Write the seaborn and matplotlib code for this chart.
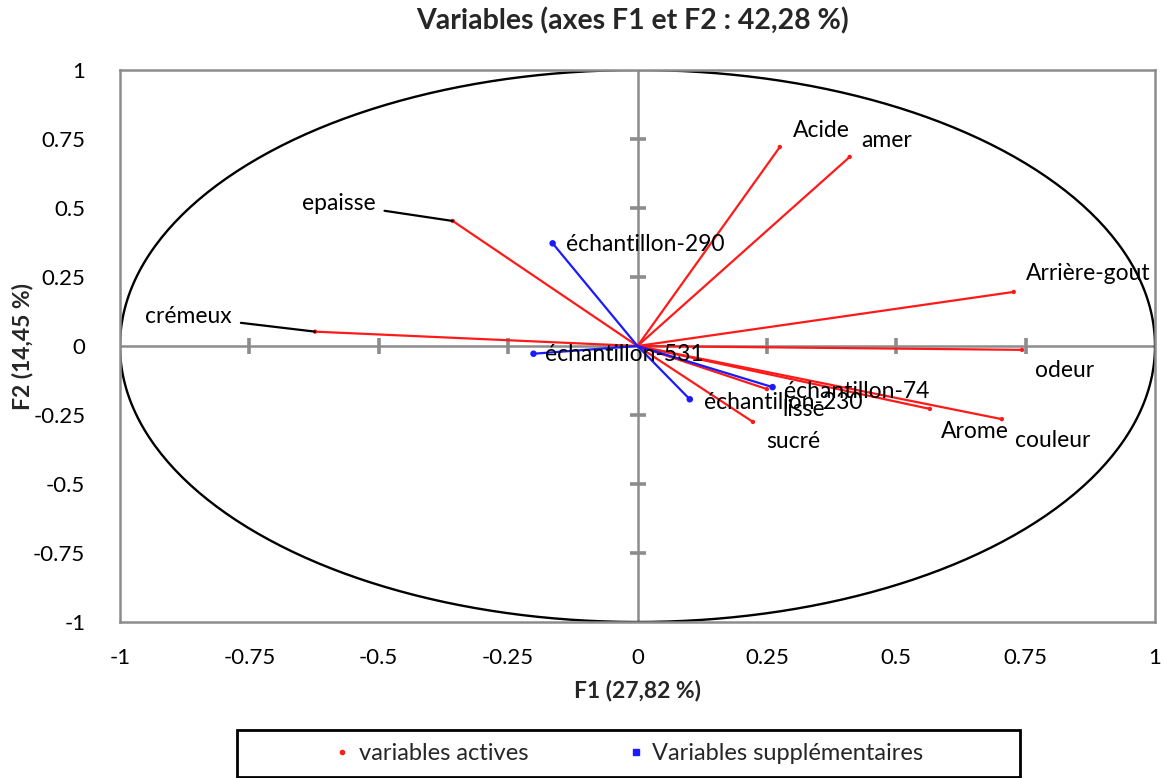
import numpy as np
import pandas as pd
import matplotlib
matplotlib.use("Agg")
import matplotlib.pyplot as plt
import seaborn as sns
from matplotlib.patches import Rectangle
from matplotlib.lines import Line2D

# Correlation of each variable with the first two factors
active_names = ["Acide", "amer", "Arrière-gout", "odeur", "Arome", "couleur",
                "lisse", "sucré", "epaisse", "crémeux"]
active_f1 = [0.275, 0.410, 0.727, 0.743, 0.565, 0.704, 0.250, 0.223, -0.357, -0.623]
active_f2 = [0.721, 0.685, 0.196, -0.014, -0.228, -0.265, -0.156, -0.275, 0.453, 0.052]

supp_names = ["échantillon-290", "échantillon-531", "échantillon-230", "échantillon-74"]
supp_f1 = [-0.164, -0.201, 0.101, 0.261]
supp_f2 = [0.372, -0.028, -0.193, -0.149]

tick_values = [-1, -0.75, -0.5, -0.25, 0, 0.25, 0.5, 0.75, 1]
tick_labels = ["-1", "-0.75", "-0.5", "-0.25", "0", "0.25", "0.5", "0.75", "1"]

# label offsets in pixels from each point
label_offsets = {
    "Acide": (13, -17), "amer": (12, -16), "Arrière-gout": (12, -18),
    "odeur": (13, 21), "Arome": (11, 23), "couleur": (13, 21),
    "lisse": (16, 20), "sucré": (13, 20),
    "epaisse": (-77, -17), "crémeux": (-83, -15),
    "échantillon-290": (13, 1), "échantillon-531": (12, 1),
    "échantillon-230": (14, 3), "échantillon-74": (11, 4),
}
leader_labels = {"epaisse", "crémeux"}

sns.set_theme(style="white")
plt.rcParams["font.family"] = ["Lato", "DejaVu Sans"]

def segments(names, f1, f2):
    rows = []
    for n, x, y in zip(names, f1, f2):
        rows.append({"name": n, "f1": 0.0, "f2": 0.0})
        rows.append({"name": n, "f1": x, "f2": y})
    return pd.DataFrame(rows)

active_df = pd.DataFrame({"name": active_names, "f1": active_f1, "f2": active_f2})
supp_df = pd.DataFrame({"name": supp_names, "f1": supp_f1, "f2": supp_f2})

fig = plt.figure(figsize=(11.63, 7.78), dpi=100)
ax = fig.add_axes([120 / 1163, 1 - 622 / 778, 1035 / 1163, 552 / 778])

# correlation circle
t = np.linspace(0, 2 * np.pi, 400)
ax.plot(np.cos(t), np.sin(t), color="black", lw=1.7, zorder=2)

# central axes with cross ticks
ax.axhline(0, color="#8c8c8c", lw=1.8, zorder=1)
ax.axvline(0, color="#8c8c8c", lw=1.8, zorder=1)
inner = [v for v in tick_values if v not in (-1, 0, 1)]
ax.plot(inner, [0] * len(inner), ls="none", marker="|", ms=11, mew=2.6,
        color="#8c8c8c", zorder=1)
ax.plot([0] * len(inner), inner, ls="none", marker="_", ms=12, mew=2.6,
        color="#8c8c8c", zorder=1)

# vectors
sns.lineplot(data=segments(active_names, active_f1, active_f2), x="f1", y="f2",
             units="name", estimator=None, sort=False, color="#ff1a1a", lw=1.6,
             ax=ax, zorder=3)
sns.lineplot(data=segments(supp_names, supp_f1, supp_f2), x="f1", y="f2",
             units="name", estimator=None, sort=False, color="#1a1aff", lw=1.6,
             ax=ax, zorder=4)
sns.scatterplot(data=active_df, x="f1", y="f2", color="#ff1a1a", s=10,
                edgecolor="none", ax=ax, zorder=5)
sns.scatterplot(data=supp_df, x="f1", y="f2", color="#1a1aff", s=22,
                edgecolor="none", ax=ax, zorder=5)

# point labels
for n, x, y in zip(active_names + supp_names, active_f1 + supp_f1, active_f2 + supp_f2):
    dx, dy = label_offsets[n]
    if n in leader_labels:
        ax.annotate(n, (x, y), xytext=(dx, -dy), textcoords="offset pixels",
                    ha="right", va="center", fontsize=16.5, color="black",
                    arrowprops=dict(arrowstyle="-", color="black", lw=1.6,
                                    shrinkA=4, shrinkB=0), zorder=6)
    else:
        ax.annotate(n, (x, y), xytext=(dx, -dy), textcoords="offset pixels",
                    ha="left", va="center", fontsize=16.5, color="black", zorder=6)

ax.set_xlim(-1, 1)
ax.set_ylim(-1, 1)
ax.set_xticks(tick_values)
ax.set_xticklabels(tick_labels)
ax.set_yticks(tick_values)
ax.set_yticklabels(tick_labels)
ax.tick_params(axis="both", length=0, labelsize=16, colors="black")
ax.tick_params(axis="x", pad=19)
ax.tick_params(axis="y", pad=25)
for s in ax.spines.values():
    s.set_color("#8c8c8c")
    s.set_linewidth(1.8)
ax.set_xlabel("F1 (27,82 %)", fontsize=16.5, fontweight="bold", labelpad=8)
ax.set_ylabel("F2 (14,45 %)", fontsize=16.5, fontweight="bold", labelpad=0)

fig.text(632 / 1163, 1 - 21 / 778, "Variables (axes F1 et F2 : 42,28 %)",
         ha="center", va="center", fontsize=20.5, fontweight="bold")

# legend box at the bottom
fig.patches.append(Rectangle((237 / 1163, 1.5 / 778), 783 / 1163, (776 - 729) / 778,
                             transform=fig.transFigure, fill=False,
                             edgecolor="black", lw=2))
handles = [Line2D([], [], ls="none", marker="o", ms=3, color="#ff1a1a"),
           Line2D([], [], ls="none", marker="s", ms=5, color="#1a1aff")]
fig.legend(handles, ["variables actives", "Variables supplémentaires"],
           loc="center", bbox_to_anchor=(627 / 1163, 1 - 754 / 778), ncol=2,
           frameon=False, fontsize=17, columnspacing=4.06, handletextpad=0.2,
           handlelength=1)

fig.savefig("out.png", dpi=100)
